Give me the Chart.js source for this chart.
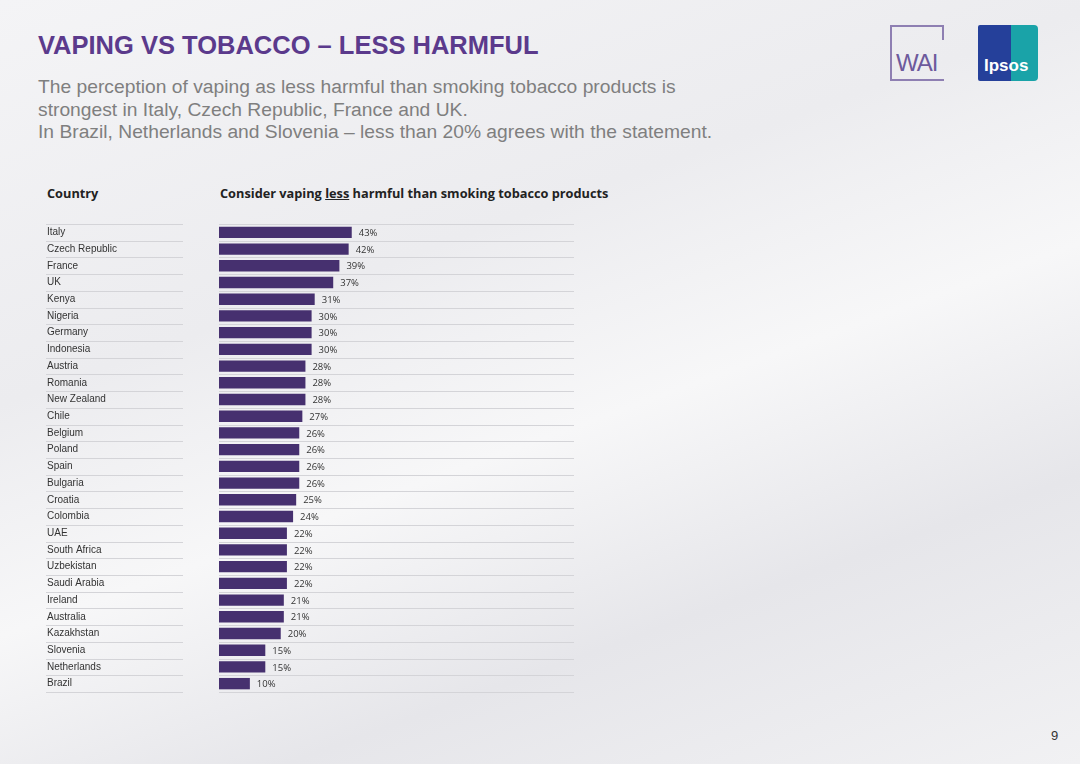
<!DOCTYPE html>
<html><head><meta charset="utf-8">
<script src="https://cdn.jsdelivr.net/npm/chart.js@4"></script>
<style>
body{margin:0;width:1080px;height:764px;overflow:hidden;font-family:"Liberation Sans",Arial,sans-serif;
background:linear-gradient(160deg,#f4f4f6 0%,#ececef 35%,#f7f7f8 55%,#e6e6ea 75%,#f1f1f3 100%);position:relative}
#t{position:absolute;left:38px;top:31px;font-size:25.5px;font-weight:bold;color:#5b3a8c}
#s{position:absolute;left:38px;top:76px;font-size:19.25px;color:#7f7f7f;line-height:22.5px}
.h{position:absolute;top:184px;font-family:"Open Sans",sans-serif;font-weight:bold;font-size:12.75px;color:#222}
#wai{position:absolute;left:890px;top:25px;width:54px;height:56px;border:2px solid #8e7fb2;border-right:none;box-sizing:border-box}
#wai:after{content:"";position:absolute;right:0;top:0;width:2px;height:13px;background:#8e7fb2}
#wai span{position:absolute;left:4px;top:22px;font-size:24px;color:#6d5a9c;letter-spacing:-1px}
#ip{position:absolute;left:978px;top:25px;width:60px;height:56px;background:linear-gradient(90deg,#25409a 55%,#1aa3a8 55%);border-radius:2px 4px 4px 2px}
#ip span{position:absolute;left:6px;top:31px;color:#fff;font-weight:bold;font-size:17px}
#pg{position:absolute;left:1051px;top:728px;font-size:13px;color:#333}
#c{position:absolute;left:40px;top:218px}
</style></head><body>
<div id="t">VAPING VS TOBACCO – LESS HARMFUL</div>
<div id="s">The perception of vaping as less harmful than smoking tobacco products is<br>strongest in Italy, Czech Republic, France and UK.<br>In Brazil, Netherlands and Slovenia – less than 20% agrees with the statement.</div>
<div class="h" style="left:47px">Country</div>
<div class="h" style="left:220px">Consider vaping <u>less</u> harmful than smoking tobacco products</div>
<div id="wai"><span>WAI</span></div>
<div id="ip"><span>Ipsos</span></div>
<div id="pg">9</div>
<canvas id="c" width="534" height="480"></canvas>
<script>
const countries=["Italy","Czech Republic","France","UK","Kenya","Nigeria","Germany","Indonesia","Austria","Romania","New Zealand","Chile","Belgium","Poland","Spain","Bulgaria","Croatia","Colombia","UAE","South Africa","Uzbekistan","Saudi Arabia","Ireland","Australia","Kazakhstan","Slovenia","Netherlands","Brazil"];
const values=[43,42,39,37,31,30,30,30,28,28,28,27,26,26,26,26,25,24,22,22,22,22,21,21,20,15,15,10];
const extras={id:'ex',afterDatasetsDraw(ch){
 const c=ch.ctx,y=ch.scales.y,x=ch.scales.x,a=ch.chartArea;
 const step=(y.getPixelForValue(1)-y.getPixelForValue(0));
 c.save();c.strokeStyle='#d4d4d8';c.lineWidth=1;
 for(let i=0;i<=countries.length;i++){
  const yy=Math.round(y.getPixelForValue(i)-step/2)+0.5;
  c.beginPath();c.moveTo(6,yy);c.lineTo(143,yy);c.stroke();
  c.beginPath();c.moveTo(a.left,yy);c.lineTo(a.right,yy);c.stroke();
 }
 c.fillStyle='#333';c.font='9.5px "Open Sans",sans-serif';c.textBaseline='middle';
 ch.getDatasetMeta(0).data.forEach((b,i)=>{c.fillText(values[i]+'%',b.x+7,b.y+1);});
 c.restore();
}};
new Chart(document.getElementById('c'),{type:'bar',
 data:{labels:countries,datasets:[{data:values,backgroundColor:'#46306f',barPercentage:0.68,categoryPercentage:1}]},
 options:{indexAxis:'y',responsive:false,animation:false,
  layout:{padding:{top:0,bottom:0,right:0,left:7}},
  plugins:{legend:{display:false},tooltip:{enabled:false}},
  scales:{x:{display:false,min:0,max:115},
   y:{grid:{display:false},border:{display:false},
    afterFit(s){s.width=172;},
    ticks:{crossAlign:'far',padding:0,color:'#333',font:{size:10,family:'"Liberation Sans",Arial'},
     callback:(v,i)=>countries[i]}}}},
 plugins:[extras]});
</script>
</body></html>
